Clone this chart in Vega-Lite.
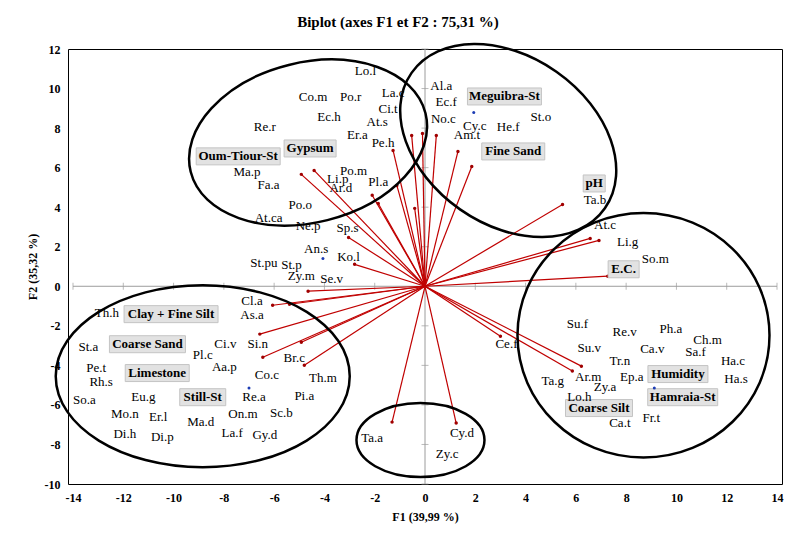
{
  "$schema": "https://vega.github.io/schema/vega-lite/v6.json",
  "width": 714,
  "height": 435,
  "autosize": {"type": "none"},
  "padding": {"left": 68, "top": 49, "right": 8, "bottom": 49},
  "background": "white",
  "title": {
    "text": "Biplot (axes F1 et F2 : 75,31 %)",
    "font": "Liberation Serif",
    "fontSize": 15,
    "fontWeight": "bold",
    "color": "black",
    "anchor": "middle",
    "offset": 9,
    "dx": -27
  },
  "config": {
    "font": "Liberation Serif",
    "view": {"stroke": "black", "strokeWidth": 1},
    "axis": {
      "labelFont": "Liberation Serif",
      "labelFontSize": 12,
      "labelFontWeight": "bold",
      "labelColor": "black",
      "titleFont": "Liberation Serif",
      "titleFontSize": 12,
      "titleFontWeight": "bold",
      "titleColor": "black",
      "ticks": false,
      "domain": false,
      "grid": false,
      "labelPadding": 8,
      "labelExpr": "'' + datum.value"
    }
  },
  "datasets": {
    "axesZero": [
      {"F1": -14, "F2": 0, "F1e": 14, "F2e": 0},
      {"F1": 0, "F2": -10, "F1e": 0, "F2e": 12}
    ],
    "ticksH": [
      {"F1": -14, "F2": 0}, {"F1": -12, "F2": 0}, {"F1": -10, "F2": 0}, {"F1": -8, "F2": 0},
      {"F1": -6, "F2": 0}, {"F1": -4, "F2": 0}, {"F1": -2, "F2": 0}, {"F1": 2, "F2": 0},
      {"F1": 4, "F2": 0}, {"F1": 6, "F2": 0}, {"F1": 8, "F2": 0}, {"F1": 10, "F2": 0},
      {"F1": 12, "F2": 0}, {"F1": 14, "F2": 0}
    ],
    "ticksV": [
      {"F1": 0, "F2": -10}, {"F1": 0, "F2": -8}, {"F1": 0, "F2": -6}, {"F1": 0, "F2": -4},
      {"F1": 0, "F2": -2}, {"F1": 0, "F2": 2}, {"F1": 0, "F2": 4}, {"F1": 0, "F2": 6},
      {"F1": 0, "F2": 8}, {"F1": 0, "F2": 10}, {"F1": 0, "F2": 12}
    ],
    "groups": [
      {"group": "Oum-Tiour-St", "F1": -4.65, "F2": 7.27},
      {"group": "Meguibra-St", "F1": 3.31, "F2": 7.37},
      {"group": "Hamraia-St", "F1": 8.69, "F2": -2.48},
      {"group": "Still-St", "F1": -8.84, "F2": -4.55},
      {"group": "Cy.d-Ta.a", "F1": -0.18, "F2": -7.78}
    ],
    "vectors": [
      {"F1": -4.92, "F2": 5.66}, {"F1": -4.41, "F2": 5.86}, {"F1": -2.10, "F2": 4.60},
      {"F1": -1.86, "F2": 4.19}, {"F1": -1.27, "F2": 6.87}, {"F1": -1.12, "F2": 5.10},
      {"F1": -0.41, "F2": 3.94}, {"F1": -0.53, "F2": 7.63}, {"F1": -0.10, "F2": 7.73},
      {"F1": 0.45, "F2": 7.63}, {"F1": 1.31, "F2": 6.82}, {"F1": 1.86, "F2": 6.06},
      {"F1": 5.47, "F2": 4.14}, {"F1": 6.57, "F2": 2.42}, {"F1": 6.92, "F2": 2.32},
      {"F1": 7.27, "F2": 0.51}, {"F1": 3.00, "F2": -2.53}, {"F1": 6.22, "F2": -4.04},
      {"F1": 5.86, "F2": -4.29}, {"F1": -1.31, "F2": -6.87}, {"F1": 1.24, "F2": -6.92},
      {"F1": -3.04, "F2": 2.47}, {"F1": -2.80, "F2": 1.11}, {"F1": -4.65, "F2": -0.25},
      {"F1": -6.06, "F2": -0.96}, {"F1": -5.39, "F2": -0.91}, {"F1": -6.57, "F2": -2.42},
      {"F1": -6.45, "F2": -3.59}, {"F1": -4.92, "F2": -2.83}, {"F1": -4.80, "F2": -3.99}
    ],
    "centroids": [
      {"F1": 1.94, "F2": 8.79}, {"F1": -4.06, "F2": 1.41},
      {"F1": -7.00, "F2": -5.15}, {"F1": 9.12, "F2": -5.15}
    ],
    "variables": [
      {"label": "Oum-Tiour-St", "F1": -7.43, "F2": 6.57},
      {"label": "Gypsum", "F1": -4.57, "F2": 6.97},
      {"label": "Meguibra-St", "F1": 3.16, "F2": 9.60},
      {"label": "Fine Sand", "F1": 3.51, "F2": 6.82},
      {"label": "pH", "F1": 6.73, "F2": 5.20},
      {"label": "E.C.", "F1": 7.90, "F2": 0.86},
      {"label": "Clay + Fine Silt", "F1": -10.10, "F2": -1.41},
      {"label": "Coarse Sand", "F1": -11.04, "F2": -2.93},
      {"label": "Limestone", "F1": -10.65, "F2": -4.39},
      {"label": "Still-St", "F1": -8.84, "F2": -5.61},
      {"label": "Humidity", "F1": 10.06, "F2": -4.44},
      {"label": "Hamraia-St", "F1": 10.25, "F2": -5.61},
      {"label": "Coarse Silt", "F1": 6.92, "F2": -6.16}
    ],
    "species": [
      {"label": "Lo.l", "F1": -2.37, "F2": 10.91},
      {"label": "Co.m", "F1": -4.45, "F2": 9.55},
      {"label": "Po.r", "F1": -2.96, "F2": 9.55},
      {"label": "La.c", "F1": -1.27, "F2": 9.75},
      {"label": "Ci.t", "F1": -1.47, "F2": 8.99},
      {"label": "Ec.h", "F1": -3.82, "F2": 8.54},
      {"label": "At.s", "F1": -1.90, "F2": 8.33},
      {"label": "Re.r", "F1": -6.37, "F2": 8.08},
      {"label": "Er.a", "F1": -2.69, "F2": 7.63},
      {"label": "Pe.h", "F1": -1.67, "F2": 7.27},
      {"label": "Ma.p", "F1": -7.08, "F2": 5.76},
      {"label": "Po.m", "F1": -2.84, "F2": 5.81},
      {"label": "Li.p", "F1": -3.47, "F2": 5.45},
      {"label": "Pl.a", "F1": -1.86, "F2": 5.25},
      {"label": "Ar.d", "F1": -3.35, "F2": 4.95},
      {"label": "Fa.a", "F1": -6.22, "F2": 5.10},
      {"label": "Po.o", "F1": -4.96, "F2": 4.09},
      {"label": "At.ca", "F1": -6.22, "F2": 3.43},
      {"label": "Ne.p", "F1": -4.65, "F2": 3.03},
      {"label": "Sp.s", "F1": -3.08, "F2": 2.93},
      {"label": "Al.a", "F1": 0.65, "F2": 10.15},
      {"label": "Ec.f", "F1": 0.84, "F2": 9.34},
      {"label": "No.c", "F1": 0.73, "F2": 8.48},
      {"label": "Cy.c", "F1": 1.98, "F2": 8.13},
      {"label": "He.f", "F1": 3.31, "F2": 8.03},
      {"label": "St.o", "F1": 4.61, "F2": 8.54},
      {"label": "Am.t", "F1": 1.67, "F2": 7.63},
      {"label": "Ta.b", "F1": 6.76, "F2": 4.34},
      {"label": "An.s", "F1": -4.33, "F2": 1.87},
      {"label": "Ko.l", "F1": -3.04, "F2": 1.46},
      {"label": "St.pu", "F1": -6.41, "F2": 1.16},
      {"label": "St.p", "F1": -5.31, "F2": 1.06},
      {"label": "Zy.m", "F1": -4.92, "F2": 0.51},
      {"label": "Se.v", "F1": -3.71, "F2": 0.35},
      {"label": "At.c", "F1": 7.16, "F2": 3.08},
      {"label": "Li.g", "F1": 8.06, "F2": 2.22},
      {"label": "So.m", "F1": 9.16, "F2": 1.36},
      {"label": "Cl.a", "F1": -6.88, "F2": -0.76},
      {"label": "As.a", "F1": -6.88, "F2": -1.46},
      {"label": "Th.h", "F1": -12.65, "F2": -1.36},
      {"label": "St.a", "F1": -13.39, "F2": -3.08},
      {"label": "Ci.v", "F1": -7.94, "F2": -2.93},
      {"label": "Si.n", "F1": -6.65, "F2": -2.93},
      {"label": "Pl.c", "F1": -8.84, "F2": -3.48},
      {"label": "Aa.p", "F1": -7.98, "F2": -4.09},
      {"label": "Br.c", "F1": -5.20, "F2": -3.64},
      {"label": "Pe.t", "F1": -13.08, "F2": -4.14},
      {"label": "Co.c", "F1": -6.29, "F2": -4.49},
      {"label": "Th.m", "F1": -4.06, "F2": -4.65},
      {"label": "Rh.s", "F1": -12.88, "F2": -4.85},
      {"label": "So.a", "F1": -13.55, "F2": -5.76},
      {"label": "Eu.g", "F1": -11.20, "F2": -5.61},
      {"label": "Re.a", "F1": -6.80, "F2": -5.61},
      {"label": "Pi.a", "F1": -4.80, "F2": -5.56},
      {"label": "Mo.n", "F1": -11.94, "F2": -6.46},
      {"label": "Er.l", "F1": -10.61, "F2": -6.62},
      {"label": "On.m", "F1": -7.24, "F2": -6.46},
      {"label": "Sc.b", "F1": -5.71, "F2": -6.41},
      {"label": "Ma.d", "F1": -8.92, "F2": -6.87},
      {"label": "Di.h", "F1": -11.94, "F2": -7.47},
      {"label": "Di.p", "F1": -10.45, "F2": -7.63},
      {"label": "La.f", "F1": -7.67, "F2": -7.42},
      {"label": "Gy.d", "F1": -6.37, "F2": -7.53},
      {"label": "Su.f", "F1": 6.06, "F2": -1.92},
      {"label": "Re.v", "F1": 7.94, "F2": -2.32},
      {"label": "Ph.a", "F1": 9.78, "F2": -2.17},
      {"label": "Ch.m", "F1": 11.24, "F2": -2.73},
      {"label": "Ce.f", "F1": 3.24, "F2": -2.93},
      {"label": "Su.v", "F1": 6.53, "F2": -3.13},
      {"label": "Ca.v", "F1": 9.04, "F2": -3.18},
      {"label": "Sa.f", "F1": 10.76, "F2": -3.33},
      {"label": "Tr.n", "F1": 7.75, "F2": -3.79},
      {"label": "Ha.c", "F1": 12.25, "F2": -3.79},
      {"label": "Ar.m", "F1": 6.49, "F2": -4.60},
      {"label": "Ep.a", "F1": 8.22, "F2": -4.60},
      {"label": "Ha.s", "F1": 12.37, "F2": -4.70},
      {"label": "Ta.g", "F1": 5.08, "F2": -4.80},
      {"label": "Zy.a", "F1": 7.16, "F2": -5.10},
      {"label": "Lo.h", "F1": 6.14, "F2": -5.61},
      {"label": "Fr.t", "F1": 9.00, "F2": -6.67},
      {"label": "Ca.t", "F1": 7.75, "F2": -6.92},
      {"label": "Ta.a", "F1": -2.10, "F2": -7.68},
      {"label": "Cy.d", "F1": 1.47, "F2": -7.42},
      {"label": "Zy.c", "F1": 0.88, "F2": -8.48}
    ]
  },
  "encoding": {
    "x": {
      "field": "F1",
      "type": "quantitative",
      "scale": {"domain": [-14, 14], "nice": false, "zero": false},
      "axis": {
        "title": "F1 (39,99 %)",
        "values": [-14, -12, -10, -8, -6, -4, -2, 0, 2, 4, 6, 8, 10, 12, 14],
        "titlePadding": 8
      }
    },
    "y": {
      "field": "F2",
      "type": "quantitative",
      "scale": {"domain": [-10, 12], "nice": false, "zero": false},
      "axis": {
        "title": "F2 (35,32 %)",
        "values": [-10, -8, -6, -4, -2, 0, 2, 4, 6, 8, 10, 12],
        "titlePadding": 5
      }
    }
  },
  "layer": [
    {
      "data": {"name": "axesZero"},
      "mark": {"type": "rule", "color": "#9c9c9c", "strokeWidth": 1},
      "encoding": {
        "x2": {"field": "F1e"},
        "y2": {"field": "F2e"}
      }
    },
    {
      "data": {"name": "ticksH"},
      "mark": {"type": "tick", "orient": "vertical", "size": 7, "thickness": 1, "color": "#9c9c9c"}
    },
    {
      "data": {"name": "ticksV"},
      "mark": {"type": "tick", "orient": "horizontal", "size": 7, "thickness": 1, "color": "#9c9c9c"}
    },
    {
      "data": {"name": "vectors"},
      "mark": {"type": "rule", "color": "#c00000", "strokeWidth": 1.2},
      "encoding": {
        "x2": {"datum": 0},
        "y2": {"datum": 0}
      }
    },
    {
      "data": {"name": "vectors"},
      "mark": {"type": "point", "filled": true, "color": "#a00000", "size": 12, "opacity": 1}
    },
    {
      "data": {"name": "groups"},
      "transform": [{"filter": "datum.group == 'Oum-Tiour-St'"}],
      "mark": {
        "type": "point", "filled": false, "color": "black", "strokeWidth": 2.5, "opacity": 1,
        "shape": "M-1,0A1,0.661,0,1,0,1,0A1,0.661,0,1,0,-1,0Z",
        "size": 58564, "angle": 346
      }
    },
    {
      "data": {"name": "groups"},
      "transform": [{"filter": "datum.group == 'Meguibra-St'"}],
      "mark": {
        "type": "point", "filled": false, "color": "black", "strokeWidth": 2.5, "opacity": 1,
        "shape": "M-1,0A1,0.712,0,1,0,1,0A1,0.712,0,1,0,-1,0Z",
        "size": 55696, "angle": 35
      }
    },
    {
      "data": {"name": "groups"},
      "transform": [{"filter": "datum.group == 'Hamraia-St'"}],
      "mark": {
        "type": "point", "filled": false, "color": "black", "strokeWidth": 2.5, "opacity": 1,
        "shape": "M-1,0A1,0.97,0,1,0,1,0A1,0.97,0,1,0,-1,0Z",
        "size": 63504, "angle": 0
      }
    },
    {
      "data": {"name": "groups"},
      "transform": [{"filter": "datum.group == 'Still-St'"}],
      "mark": {
        "type": "point", "filled": false, "color": "black", "strokeWidth": 2.5, "opacity": 1,
        "shape": "M-1,0A1,0.619,0,1,0,1,0A1,0.619,0,1,0,-1,0Z",
        "size": 86436, "angle": 0
      }
    },
    {
      "data": {"name": "groups"},
      "transform": [{"filter": "datum.group == 'Cy.d-Ta.a'"}],
      "mark": {
        "type": "point", "filled": false, "color": "black", "strokeWidth": 2.5, "opacity": 1,
        "shape": "M-1,0A1,0.578,0,1,0,1,0A1,0.578,0,1,0,-1,0Z",
        "size": 16384, "angle": 0
      }
    },
    {
      "data": {"name": "variables"},
      "mark": {"type": "bar", "fill": "#e2e2e2", "stroke": "#c4c4c4", "strokeWidth": 1, "yOffset": -8.5, "y2Offset": 8.5},
      "encoding": {
        "y2": {"field": "F2"},
        "size": {
          "field": "label",
          "type": "nominal",
          "legend": null,
          "scale": {
            "type": "ordinal",
            "domain": ["Oum-Tiour-St", "Gypsum", "Meguibra-St", "Fine Sand", "pH", "E.C.", "Clay + Fine Silt", "Coarse Sand", "Limestone", "Still-St", "Humidity", "Hamraia-St", "Coarse Silt"],
            "range": [84, 52, 74, 63, 22, 31, 94, 76, 64, 46, 60, 70, 67]
          }
        }
      }
    },
    {
      "data": {"name": "variables"},
      "mark": {"type": "text", "font": "Liberation Serif", "fontSize": 13, "fontWeight": "bold", "color": "black", "align": "center", "baseline": "middle"},
      "encoding": {"text": {"field": "label"}}
    },
    {
      "data": {"name": "species"},
      "mark": {"type": "text", "font": "Liberation Serif", "fontSize": 13, "color": "black", "align": "center", "baseline": "middle"},
      "encoding": {"text": {"field": "label"}}
    },
    {
      "data": {"name": "centroids"},
      "mark": {"type": "point", "filled": true, "color": "#1c3cb4", "size": 9, "opacity": 1}
    }
  ]
}
